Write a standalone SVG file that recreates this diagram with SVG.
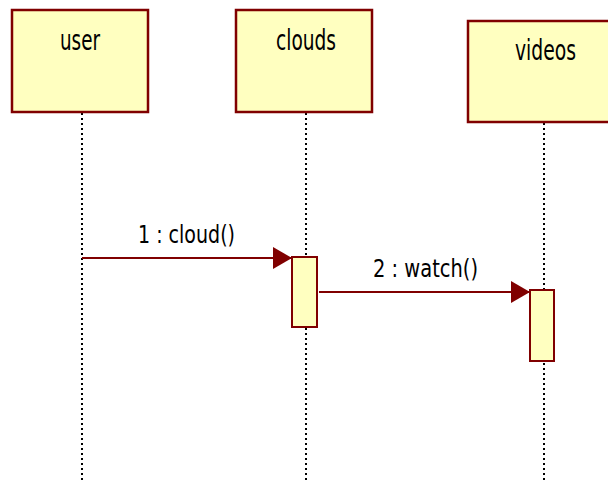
<svg xmlns="http://www.w3.org/2000/svg" width="608" height="481" viewBox="0 0 608 481">
  <style>
    .head { fill: #FFFFC0; stroke: #800000; stroke-width: 2.5; }
    .act { fill: #FFFFC0; stroke: #800000; stroke-width: 2; }
    .life { stroke: #000; stroke-width: 2; stroke-dasharray: 2 3; fill: none; }
    .msg { stroke: #800000; stroke-width: 2; fill: none; }
    .head-text { font-family: "DejaVu Sans", Verdana, sans-serif; font-size: 28px; fill: #000; }
    .msg-text { font-family: "DejaVu Sans", Verdana, sans-serif; font-size: 25px; fill: #000; }
  </style>
  <defs>
    <marker id="arrow" viewBox="0 0 19 22" refX="19" refY="11" markerWidth="19" markerHeight="22" markerUnits="userSpaceOnUse" orient="auto">
      <path d="M0,0 L19,11 L0,22 Z" fill="#800000"/>
    </marker>
  </defs>

  <rect width="608" height="481" fill="#fff"/>

  <!-- lifelines -->
  <g id="lifelines">
    <line class="life" x1="82" y1="113" x2="82" y2="480"/>
    <line class="life" x1="306" y1="113" x2="306" y2="480"/>
    <line class="life" x1="544" y1="123" x2="544" y2="480"/>
  </g>

  <g id="user">
    <rect class="head" x="12" y="10" width="136" height="102"/>
    <text class="head-text" x="60" y="50" textLength="40" lengthAdjust="spacingAndGlyphs">user</text>
  </g>

  <g id="clouds">
    <rect class="head" x="236" y="10" width="136" height="102"/>
    <text class="head-text" x="276" y="50" textLength="60" lengthAdjust="spacingAndGlyphs">clouds</text>
    <rect class="act" x="292" y="257" width="25" height="70"/>
  </g>

  <g id="videos">
    <rect class="head" x="468" y="21" width="152" height="101"/>
    <text class="head-text" x="515" y="60" textLength="61" lengthAdjust="spacingAndGlyphs">videos</text>
    <rect class="act" x="530" y="290" width="24" height="71"/>
  </g>

  <!-- messages -->
  <g id="connectors">
    <line class="msg" x1="82" y1="258" x2="292" y2="258" marker-end="url(#arrow)"/>
    <text class="msg-text" x="138" y="243" textLength="97" lengthAdjust="spacingAndGlyphs">1 : cloud()</text>
    <line class="msg" x1="319" y1="292" x2="530" y2="292" marker-end="url(#arrow)"/>
    <text class="msg-text" x="373" y="277" textLength="105" lengthAdjust="spacingAndGlyphs">2 : watch()</text>
  </g>
</svg>
